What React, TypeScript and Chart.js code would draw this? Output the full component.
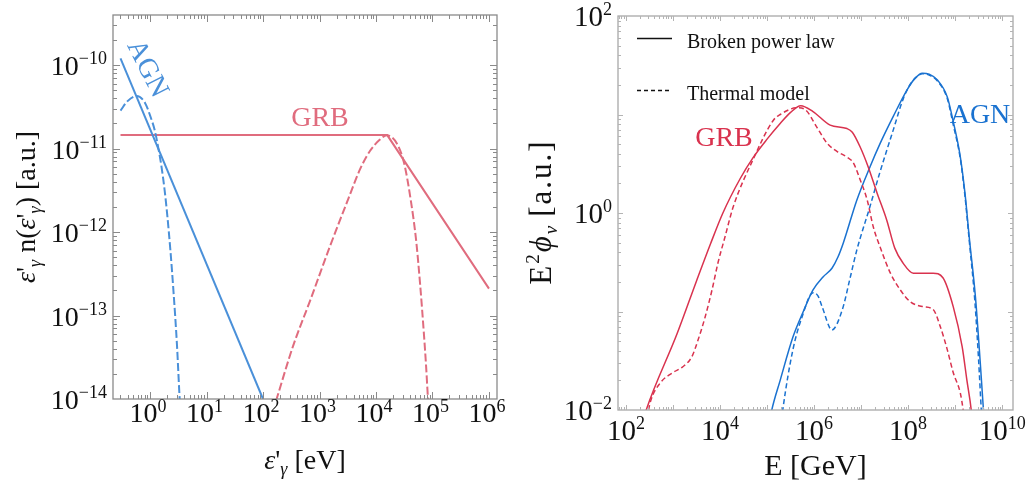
import React, { useEffect, useRef } from "react";
import { Chart, registerables } from "chart.js";

Chart.register(...registerables);

const SERIF = '"Liberation Serif", "Times New Roman", serif';

// ---------------- Left panel: target photon spectra ----------------
const leftXTickExponents = [0, 1, 2, 3, 4, 5, 6];
const leftYTickExponents = [-14, -13, -12, -11, -10];

const leftAgnPowerE = [0.3, 100];
const leftAgnPowerN = [1.2e-10, 1.0e-14];

const leftAgnThermalE = [0.3, 0.4, 0.58, 0.82, 1.0, 1.22, 1.4, 1.6, 1.8, 2.0, 2.3, 2.6, 3.0, 3.3, 3.45];
const leftAgnThermalN = [2.85e-11, 3.7e-11, 4.27e-11, 3.5e-11, 2.5e-11, 1.62e-11, 1.02e-11, 6.0e-12, 3.3e-12, 1.7e-12, 5.9e-13, 1.95e-13, 4.4e-14, 1.2e-14, 7e-15];

const leftGrbPowerE = [0.3, 1.58e4, 1.0e6];
const leftGrbPowerN = [1.45e-11, 1.45e-11, 2.1e-13];

const leftGrbThermalE = [170, 340, 680, 1500, 3160, 5250, 7760, 11750, 15500, 23400, 31600, 41700, 51300, 60300, 70800, 77000, 83200, 86000];
const leftGrbThermalN = [9.5e-15, 4.3e-14, 1.5e-13, 6.5e-13, 2.4e-12, 5.7e-12, 9.3e-12, 1.28e-11, 1.44e-11, 1.15e-11, 6.6e-12, 2.3e-12, 8.0e-13, 2.4e-13, 5.8e-14, 2.5e-14, 1.0e-14, 7e-15];

// ---------------- Right panel: neutrino spectra ----------------
const rightXTickExponents = [2, 4, 6, 8, 10];
const rightYTickExponents = [-2, 0, 2];

const rightGrbPowerE = [240, 269, 1230, 3160, 6310, 11500, 26900, 50000, 1e5, 1.9e5, 3.16e5, 5.2e5, 9.5e5, 2.2e6, 5.0e6, 6.5e6, 9.5e6, 1.41e7, 2.2e7, 3.5e7, 5.2e7, 7.8e7, 1.29e8, 3.4e8, 5.5e8, 9.1e8, 1.41e9, 1.78e9, 2.2e9, 2.35e9];
const rightGrbPowerF = [0.0083, 0.01, 0.06, 0.204, 0.49, 1.0, 2.24, 3.63, 5.62, 8.1, 10.5, 12.3, 10.7, 7.8, 7.2, 6.6, 4.7, 2.95, 1.58, 0.85, 0.44, 0.31, 0.245, 0.245, 0.22, 0.112, 0.044, 0.02, 0.01, 0.007];

const rightGrbThermalE = [282, 324, 525, 1000, 1620, 2510, 3390, 4790, 6760, 9100, 12600, 19000, 50000, 1.35e5, 1.9e5, 4.4e5, 6.5e5, 1.15e6, 1.9e6, 3.1e6, 5.0e6, 6.8e6, 9.5e6, 1.35e7, 1.82e7, 2.5e7, 4.2e7, 6.8e7, 1.1e8, 2.1e8, 3.4e8, 4.8e8, 6.8e8, 9.1e8, 1.29e9, 1.48e9, 1.58e9];
const rightGrbThermalF = [0.0083, 0.0117, 0.0186, 0.024, 0.0275, 0.0347, 0.051, 0.087, 0.166, 0.316, 0.56, 1.15, 3.47, 8.7, 10.0, 11.7, 11.2, 7.4, 5.1, 4.2, 3.7, 3.24, 2.19, 1.35, 0.72, 0.46, 0.245, 0.166, 0.126, 0.112, 0.105, 0.071, 0.041, 0.024, 0.0148, 0.01, 0.0076];

const rightAgnPowerE = [1.17e5, 1.26e5, 1.9e5, 3.55e5, 5.9e5, 9.5e5, 1.55e6, 2.4e6, 3.2e6, 4.2e6, 8.1e6, 1.55e7, 2.5e7, 4.8e7, 9.5e7, 1.41e8, 2.0e8, 2.8e8, 4.2e8, 6.8e8, 9.1e8, 1.29e9, 1.62e9, 2.0e9, 2.7e9, 3.4e9, 4.0e9, 4.3e9];
const rightAgnPowerF = [0.0083, 0.01, 0.02, 0.055, 0.1, 0.166, 0.224, 0.275, 0.355, 0.5, 1.35, 2.95, 5.0, 9.5, 17.8, 23.4, 26.3, 25.7, 22.4, 15.1, 8.5, 3.7, 1.58, 0.56, 0.141, 0.0316, 0.01, 0.0056];

const rightAgnThermalE = [2.04e5, 2.2e5, 3.55e5, 5.5e5, 9.5e5, 1.2e6, 1.48e6, 2.4e6, 4.0e6, 5.9e6, 8.1e6, 1.55e7, 2.5e7, 4.8e7, 7.9e7, 1.12e8, 1.58e8, 2.0e8, 2.8e8, 4.2e8, 6.8e8, 9.1e8, 1.29e9, 1.62e9, 2.0e9, 2.63e9, 3.16e9, 3.6e9, 3.9e9];
const rightAgnThermalF = [0.0079, 0.0107, 0.041, 0.087, 0.155, 0.145, 0.112, 0.065, 0.105, 0.224, 0.42, 1.17, 2.57, 6.9, 14.5, 20.4, 24.5, 26.0, 25.1, 21.9, 14.5, 7.9, 3.55, 1.48, 0.52, 0.126, 0.0316, 0.01, 0.0056];

const legendLabels = ["Broken power law", "Thermal model"];

// colours
const L_BLUE = "rgb(74,144,217)";
const L_PINK = "rgb(224,108,126)";
const R_RED = "rgb(217,50,78)";
const R_BLUE = "rgb(26,114,208)";

type Seg = { t: string; size: number; dy?: number; italic?: boolean; gap?: number };

function fontOf(s: Seg) {
  return `${s.italic ? "italic " : ""}${s.size}px ${SERIF}`;
}

function drawRich(ctx: CanvasRenderingContext2D, segs: Seg[], x: number, y: number, align: "left" | "center" | "right", color: string) {
  const ws = segs.map((s) => {
    ctx.font = fontOf(s);
    return ctx.measureText(s.t).width + (s.gap ?? 0);
  });
  const total = ws.reduce((a, b) => a + b, 0);
  let cx = align === "left" ? x : align === "center" ? x - total / 2 : x - total;
  ctx.fillStyle = color;
  ctx.textAlign = "left";
  ctx.textBaseline = "alphabetic";
  segs.forEach((s, i) => {
    ctx.font = fontOf(s);
    ctx.fillText(s.t, cx, y + (s.dy ?? 0));
    cx += ws[i];
  });
}

function expStr(e: number) {
  return e < 0 ? "\u2212" + String(-e) : String(e);
}

function pts(xs: number[], ys: number[]) {
  return xs.map((x, i) => ({ x, y: ys[i] }));
}

function ds(xs: number[], ys: number[], color: string, width: number, dash: number[], smooth: boolean) {
  return {
    data: pts(xs, ys),
    borderColor: color,
    borderWidth: width,
    borderDash: dash,
    cubicInterpolationMode: smooth ? ("monotone" as const) : ("default" as const),
    tension: 0,
    pointRadius: 0,
    fill: false,
  };
}

function drawLogTicks(
  ctx: CanvasRenderingContext2D,
  chart: any,
  axis: "x" | "y",
  majorLen: number,
  minorLen: number,
  color: string,
  width: number
) {
  const scale = chart.scales[axis];
  const a = chart.chartArea;
  const lo = scale.min;
  const hi = scale.max;
  ctx.save();
  ctx.strokeStyle = color;
  ctx.lineWidth = width;
  ctx.beginPath();
  for (let d = Math.floor(Math.log10(lo)) - 1; d <= Math.ceil(Math.log10(hi)); d++) {
    for (let m = 1; m <= 9; m++) {
      const v = m * Math.pow(10, d);
      if (v < lo * 1.0001 || v > hi * 0.9999) continue;
      const p = Math.round(scale.getPixelForValue(v)) + 0.5;
      const len = m === 1 ? majorLen : minorLen;
      if (axis === "x") {
        ctx.moveTo(p, a.bottom);
        ctx.lineTo(p, a.bottom - len);
        ctx.moveTo(p, a.top);
        ctx.lineTo(p, a.top + len);
      } else {
        ctx.moveTo(a.left, p);
        ctx.lineTo(a.left + len, p);
        ctx.moveTo(a.right, p);
        ctx.lineTo(a.right - len, p);
      }
    }
  }
  ctx.stroke();
  ctx.restore();
}

const leftPlugin = {
  id: "leftDecor",
  afterDraw(chart: any) {
    const ctx: CanvasRenderingContext2D = chart.ctx;
    const a = chart.chartArea;
    ctx.save();
    ctx.strokeStyle = "#8a8a8a";
    ctx.lineWidth = 1.3;
    ctx.strokeRect(a.left, a.top, a.right - a.left, a.bottom - a.top);
    drawLogTicks(ctx, chart, "x", 7, 4, "#8a8a8a", 1);
    drawLogTicks(ctx, chart, "y", 7, 4, "#8a8a8a", 1);
    const xs = chart.scales.x;
    const ys = chart.scales.y;
    leftXTickExponents.forEach((e) => {
      const p = xs.getPixelForValue(Math.pow(10, e));
      drawRich(ctx, [{ t: "10", size: 28 }, { t: expStr(e), size: 18, dy: -10 }], p - 2, 422, "center", "#111");
    });
    leftYTickExponents.forEach((e) => {
      const p = ys.getPixelForValue(Math.pow(10, e));
      drawRich(ctx, [{ t: "10", size: 28 }, { t: expStr(e), size: 18, dy: -11 }], a.left - 6, p + 10, "right", "#111");
    });
    drawRich(
      ctx,
      [
        { t: "\u03b5", size: 28, italic: true },
        { t: "'", size: 28 },
        { t: "\u03b3", size: 18, italic: true, dy: 6 },
        { t: " [eV]", size: 28 },
      ],
      (a.left + a.right) / 2,
      469,
      "center",
      "#111"
    );
    ctx.save();
    ctx.translate(35, (a.top + a.bottom) / 2);
    ctx.rotate(-Math.PI / 2);
    drawRich(
      ctx,
      [
        { t: "\u03b5", size: 28, italic: true },
        { t: "'", size: 28 },
        { t: "\u03b3", size: 18, italic: true, dy: 6 },
        { t: " n(", size: 28 },
        { t: "\u03b5", size: 28, italic: true },
        { t: "'", size: 28 },
        { t: "\u03b3", size: 18, italic: true, dy: 6 },
        { t: ") [a.u.]", size: 28 },
      ],
      0,
      0,
      "center",
      "#111"
    );
    ctx.restore();
    drawRich(ctx, [{ t: "GRB", size: 28 }], 320, 126, "center", L_PINK);
    ctx.save();
    ctx.translate(147, 69);
    ctx.rotate((63 * Math.PI) / 180);
    ctx.font = `28px ${SERIF}`;
    ctx.fillStyle = L_BLUE;
    ctx.textAlign = "center";
    ctx.textBaseline = "middle";
    ctx.fillText("AGN", 0, 0);
    ctx.restore();
    ctx.restore();
  },
};

const rightPlugin = {
  id: "rightDecor",
  afterDraw(chart: any) {
    const ctx: CanvasRenderingContext2D = chart.ctx;
    const a = chart.chartArea;
    ctx.save();
    ctx.strokeStyle = "#a8a8a8";
    ctx.lineWidth = 1.3;
    ctx.strokeRect(a.left, a.top, a.right - a.left, a.bottom - a.top);
    drawLogTicks(ctx, chart, "x", 5, 3, "#b4b4b4", 1);
    drawLogTicks(ctx, chart, "y", 5, 3, "#b4b4b4", 1);
    const xs = chart.scales.x;
    const ys = chart.scales.y;
    rightXTickExponents.forEach((e) => {
      const p = xs.getPixelForValue(Math.pow(10, e));
      drawRich(ctx, [{ t: "10", size: 29 }, { t: expStr(e), size: 18, dy: -11 }], p, 440, "center", "#111");
    });
    rightYTickExponents.forEach((e) => {
      const p = ys.getPixelForValue(Math.pow(10, e));
      drawRich(ctx, [{ t: "10", size: 29 }, { t: expStr(e), size: 18, dy: -11 }], a.left - 6, p + 10, "right", "#111");
    });
    drawRich(ctx, [{ t: "E [GeV]", size: 30 }], (a.left + a.right) / 2, 475, "center", "#111");
    ctx.save();
    ctx.translate(33, (a.top + a.bottom) / 2);
    ctx.rotate(-Math.PI / 2);
    drawRich(
      ctx,
      [
        { t: "E", size: 31, gap: 2 },
        { t: "2", size: 19, dy: -12, gap: 2 },
        { t: "\u03d5", size: 31, italic: true, gap: 2 },
        { t: "\u03bd", size: 19, italic: true, dy: 6, gap: 9 },
        { t: "[", size: 31, gap: 2 },
        { t: "a", size: 31, gap: 2 },
        { t: ".", size: 31, gap: 2 },
        { t: "u", size: 31, gap: 2 },
        { t: ".", size: 31, gap: 2 },
        { t: "]", size: 31 },
      ],
      0,
      0,
      "center",
      "#111"
    );
    ctx.restore();
    // legend
    ctx.strokeStyle = "#111";
    ctx.lineWidth = 1.3;
    ctx.beginPath();
    ctx.moveTo(119, 38.5);
    ctx.lineTo(154, 38.5);
    ctx.stroke();
    ctx.setLineDash([4, 3]);
    ctx.beginPath();
    ctx.moveTo(119, 90.5);
    ctx.lineTo(154, 90.5);
    ctx.stroke();
    ctx.setLineDash([]);
    drawRich(ctx, [{ t: legendLabels[0], size: 20 }], 169, 48, "left", "#111");
    drawRich(ctx, [{ t: legendLabels[1], size: 20 }], 169, 100, "left", "#111");
    drawRich(ctx, [{ t: "GRB", size: 28 }], 206, 146, "center", R_RED);
    drawRich(ctx, [{ t: "AGN", size: 28 }], 462, 123, "center", R_BLUE);
    ctx.restore();
  },
};

function baseOptions(padding: any, xMin: number, xMax: number, yMin: number, yMax: number) {
  return {
    responsive: false,
    maintainAspectRatio: false,
    animation: false as const,
    layout: { padding },
    plugins: { legend: { display: false }, tooltip: { enabled: false } },
    elements: { point: { radius: 0 } },
    scales: {
      x: { type: "logarithmic" as const, min: xMin, max: xMax, display: false },
      y: { type: "logarithmic" as const, min: yMin, max: yMax, display: false },
    },
  };
}

export default function App() {
  const leftRef = useRef<HTMLCanvasElement | null>(null);
  const rightRef = useRef<HTMLCanvasElement | null>(null);

  useEffect(() => {
    const left = new Chart(leftRef.current as HTMLCanvasElement, {
      type: "line",
      data: {
        datasets: [
          ds(leftAgnPowerE, leftAgnPowerN, L_BLUE, 2, [], false),
          ds(leftAgnThermalE, leftAgnThermalN, L_BLUE, 2, [8, 3], true),
          ds(leftGrbPowerE, leftGrbPowerN, L_PINK, 2, [], false),
          ds(leftGrbThermalE, leftGrbThermalN, L_PINK, 2, [8, 3], true),
        ],
      },
      options: baseOptions({ left: 113, top: 15, right: 21, bottom: 91 }, 0.221, 1.387e6, 1e-14, 3.98e-10) as any,
      plugins: [leftPlugin],
    });
    const right = new Chart(rightRef.current as HTMLCanvasElement, {
      type: "line",
      data: {
        datasets: [
          ds(rightGrbPowerE, rightGrbPowerF, R_RED, 1.5, [], true),
          ds(rightGrbThermalE, rightGrbThermalF, R_RED, 1.5, [5, 3], true),
          ds(rightAgnPowerE, rightAgnPowerF, R_BLUE, 1.5, [], true),
          ds(rightAgnThermalE, rightAgnThermalF, R_BLUE, 1.5, [5, 3], true),
        ],
      },
      options: baseOptions({ left: 100, top: 16, right: 23, bottom: 80 }, 67.6, 1.7e10, 0.01, 100) as any,
      plugins: [rightPlugin],
    });
    return () => {
      left.destroy();
      right.destroy();
    };
  }, []);

  return (
    <div style={{ position: "absolute", left: 0, top: 0, width: 1036, height: 490, background: "#fff" }}>
      <canvas ref={leftRef} width={518} height={490} style={{ position: "absolute", left: 0, top: 0, width: 518, height: 490 }} />
      <canvas ref={rightRef} width={518} height={490} style={{ position: "absolute", left: 518, top: 0, width: 518, height: 490 }} />
    </div>
  );
}
